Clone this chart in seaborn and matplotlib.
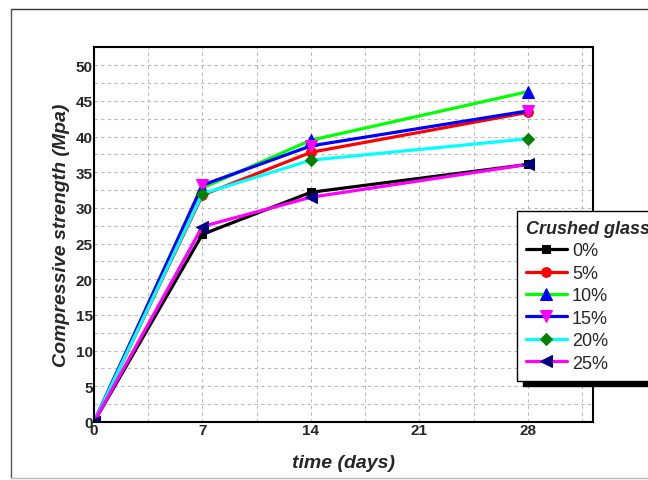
import matplotlib
matplotlib.use("Agg")
import matplotlib.pyplot as plt
import seaborn as sns
from matplotlib.lines import Line2D
from matplotlib.ticker import MultipleLocator

# Cường độ nén theo thời gian cho từng tỉ lệ thủy tinh nghiền
days = [0, 7, 14, 28]
glass_labels = ["0%", "5%", "10%", "15%", "20%", "25%"]
strength_0 = [0, 26.3, 32.2, 36.1]
strength_5 = [0, 31.8, 37.8, 43.4]
strength_10 = [0, 32.8, 39.5, 46.3]
strength_15 = [0, 33.2, 38.7, 43.6]
strength_20 = [0, 32.0, 36.7, 39.7]
strength_25 = [0, 27.4, 31.5, 36.1]
series = [strength_0, strength_5, strength_10, strength_15, strength_20, strength_25]

line_colors = ["black", "red", "#00ff00", "blue", "cyan", "magenta"]
marker_colors = ["black", "red", "blue", "magenta", "green", "navy"]
markers = ["s", "o", "^", "v", "D", "<"]
marker_sizes = [6, 7, 8, 8, 6, 8]

sns.set_style("white")
plt.rcParams["font.family"] = ["Liberation Sans", "DejaVu Sans"]

fig = plt.figure(figsize=(6.48, 4.81), dpi=100)
ax = fig.add_axes([0.145, 0.1206, 0.77, 0.7802])

for vals, lab, lc, mc, m, ms in zip(series, glass_labels, line_colors,
                                    marker_colors, markers, marker_sizes):
    sns.lineplot(x=days, y=vals, ax=ax, color=lc, linewidth=2.3, marker=m,
                 markersize=ms, markerfacecolor=mc, markeredgecolor=mc,
                 label=lab)

ax.set_xlim(0, 32.2)
ax.set_ylim(0, 52.6)
ax.xaxis.set_major_locator(MultipleLocator(7))
ax.xaxis.set_minor_locator(MultipleLocator(3.5))
ax.yaxis.set_major_locator(MultipleLocator(5))
ax.yaxis.set_minor_locator(MultipleLocator(2.5))
ax.grid(True, which="both", color="#b8b8b8", linestyle=(0, (3, 3)), linewidth=0.8)
ax.set_axisbelow(True)
ax.tick_params(which="both", length=0, pad=1, labelsize=11)
for t in ax.get_xticklabels() + ax.get_yticklabels():
    t.set_fontweight("bold")
for sp in ax.spines.values():
    sp.set_color("black")
    sp.set_linewidth(1.5)

ax.set_xlabel("time (days)", fontsize=14, fontweight="bold", style="italic", labelpad=12)
ax.set_ylabel("Compressive strength (Mpa)", fontsize=14, fontweight="bold",
              style="italic", labelpad=4)

leg = ax.legend(loc="upper left", bbox_to_anchor=(517 / 648, 1 - 212 / 481),
                bbox_transform=fig.transFigure, title="Crushed glass",
                fontsize=13, title_fontproperties={"weight": "bold", "style": "italic",
                                                   "size": 13},
                frameon=True, fancybox=False, framealpha=1, edgecolor="black",
                shadow={"ox": 4, "oy": -4, "color": "black", "alpha": 1},
                borderpad=0.5, labelspacing=0.3, handlelength=2.25,
                handletextpad=0.3, borderaxespad=0)
leg._legend_box.align = "left"
leg.get_frame().set_linewidth(1.0)

# khung viền ngoài của hình
fig.add_artist(Line2D([11 / 648, 1], [1 - 10 / 481, 1 - 10 / 481],
                      transform=fig.transFigure, color="#333333", linewidth=1))
fig.add_artist(Line2D([11 / 648, 11 / 648], [1 - 10 / 481, 1 - 479 / 481],
                      transform=fig.transFigure, color="#555555", linewidth=1))
fig.add_artist(Line2D([11 / 648, 1], [1 - 479 / 481, 1 - 479 / 481],
                      transform=fig.transFigure, color="#bbbbbb", linewidth=1))

fig.savefig("out.png", dpi=100)
